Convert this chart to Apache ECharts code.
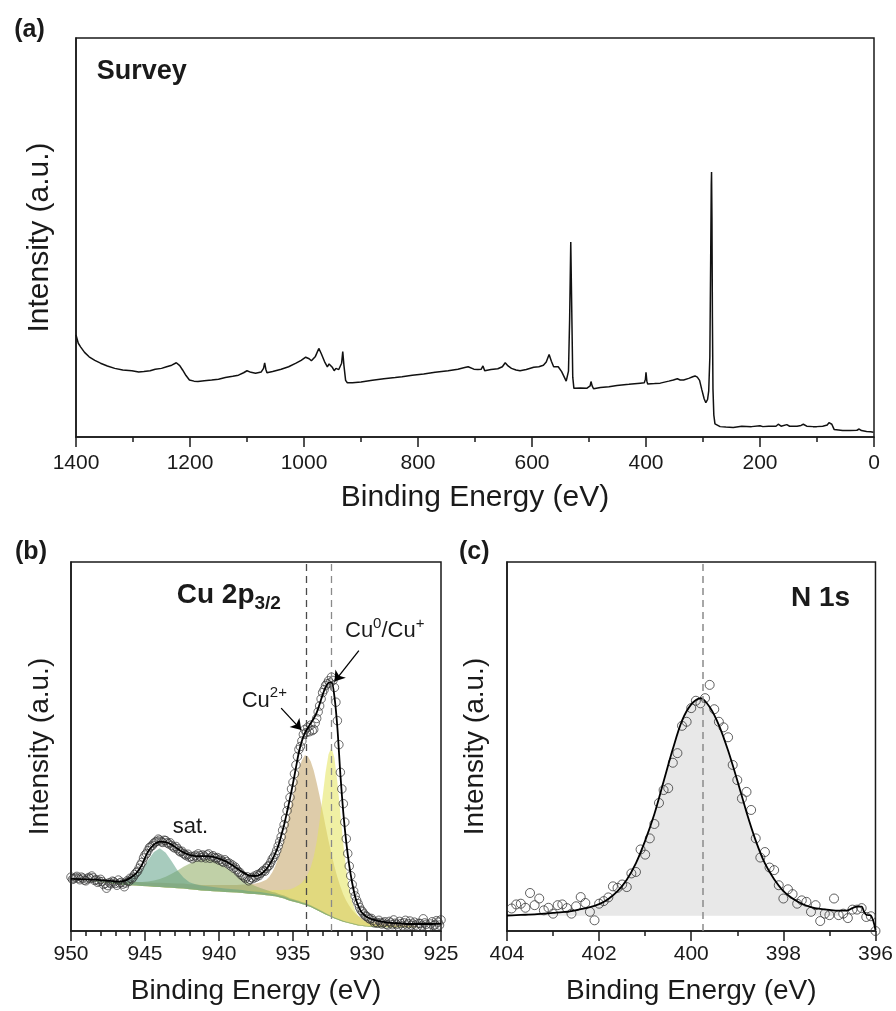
<!DOCTYPE html>
<html>
<head>
<meta charset="utf-8">
<title>XPS spectra</title>
<script src="https://cdn.jsdelivr.net/npm/echarts@6/dist/echarts.min.js"></script>
<style>
  html, body { margin: 0; padding: 0; background: #fff; }
  #chart { width: 896px; height: 1011px; }
</style>
</head>
<body>
<div id="chart"></div>
<script>
// ---------- (a) survey spectrum ----------
const surveyEnergy = [1400,1396,1392,1385,1377,1367,1357,1345,1332,1318,1302,1290,1281,1270,1261,1250,1241,1232,1224,1218,
  1213,1207,1201,1193,1186,1175,1162,1150,1138,1125,1115,1106,1100,1093,1085,1075,1071,1069,1067,1065,
  1055,1040,1027,1014,1005,997,991,987,980,974,970,964,959,956,953,950,947,944,941,939,
  937,934,932,930,927,924,915,900,880,860,840,828,810,790,770,747,730,718,712,702,
  695,689,686,683,672,660,652,647,642,636,628,621,610,597,588,580,575,570,566,562,
  554,548,544,540,538,536,534,532,530,528.5,526.5,515,504,498,496.5,494.5,492,480,465,451,
  430,410,403,401,400,398.5,397,385,375,360,352,345,340,334,325,318,314,310,306,302,
  298,295,292,290,288,286.5,285.5,285,284.3,283.5,282.5,281,279,277,270,260,247,232,215,200,
  195,185,172,168,163,153,148,135,128,124,118,107,100.5,90,82,79,77,74,70,68,
  55,42,30,26,22,13,6,1,0];
const surveyIntensity = [25.6,23.5,22.6,21.2,20.1,19.2,18.5,17.8,17.2,16.8,16.6,16.3,16.4,16.6,17.0,17.2,17.6,18.0,18.6,17.9,
  16.8,15.4,14.3,14.0,13.9,14.1,14.3,14.5,14.9,15.2,15.5,16.1,16.6,16.2,16.0,16.3,17.2,18.6,17.0,16.1,
  16.4,17.0,17.6,18.5,19.2,20.0,19.6,19.1,20.2,22.2,21.0,18.9,17.6,18.3,18.6,17.4,16.6,17.2,17.5,16.9,
  16.4,18.5,21.4,18.0,14.2,13.6,13.6,13.8,14.2,14.6,14.9,15.1,15.5,15.8,16.2,16.6,17.0,17.4,17.6,17.0,
  16.9,17.0,17.8,16.6,16.9,17.1,17.6,18.6,17.8,17.2,16.8,16.6,16.9,17.5,17.6,18.0,18.8,20.7,19.0,17.6,
  17.6,16.4,15.2,14.0,13.7,16.5,29.3,48.9,29.3,15.0,12.2,12.3,12.2,12.8,13.9,12.8,12.1,12.4,12.6,12.9,
  13.2,13.5,13.6,14.5,16.2,14.0,13.3,13.4,13.5,14.0,14.3,14.6,14.3,14.3,14.7,15.1,15.3,15.0,14.2,11.8,
  9.6,8.6,9.4,11.5,20.0,45.0,63.0,66.4,55.0,30.0,12.0,5.5,3.3,2.8,2.6,2.5,2.4,2.7,2.6,2.8,
  2.6,2.7,2.7,3.2,2.7,3.1,2.7,2.7,2.9,3.2,2.7,2.6,2.6,2.7,3.0,3.6,3.9,3.2,1.9,1.6,
  1.6,1.6,1.7,2.0,1.6,1.4,1.3,1.2,1.1];

// ---------- (b) Cu 2p3/2 ----------
const cuEnergy = [950.0,949.9,949.8,949.7,949.6,949.5,949.4,949.3,949.2,949.1,
  949.0,948.9,948.8,948.7,948.6,948.5,948.4,948.3,948.2,948.1,
  948.0,947.9,947.8,947.7,947.6,947.5,947.4,947.3,947.2,947.1,
  947.0,946.9,946.8,946.7,946.6,946.5,946.4,946.3,946.2,946.1,
  946.0,945.9,945.8,945.7,945.6,945.5,945.4,945.3,945.2,945.1,
  945.0,944.9,944.8,944.7,944.6,944.5,944.4,944.3,944.2,944.1,
  944.0,943.9,943.8,943.7,943.6,943.5,943.4,943.3,943.2,943.1,
  943.0,942.9,942.8,942.7,942.6,942.5,942.4,942.3,942.2,942.1,
  942.0,941.9,941.8,941.7,941.6,941.5,941.4,941.3,941.2,941.1,
  941.0,940.9,940.8,940.7,940.6,940.5,940.4,940.3,940.2,940.1,
  940.0,939.9,939.8,939.7,939.6,939.5,939.4,939.3,939.2,939.1,
  939.0,938.9,938.8,938.7,938.6,938.5,938.4,938.3,938.2,938.1,
  938.0,937.9,937.8,937.7,937.6,937.5,937.4,937.3,937.2,937.1,
  937.0,936.9,936.8,936.7,936.6,936.5,936.4,936.3,936.2,936.1,
  936.0,935.9,935.8,935.7,935.6,935.5,935.4,935.3,935.2,935.1,
  935.0,934.9,934.8,934.7,934.6,934.5,934.4,934.3,934.2,934.1,
  934.0,933.9,933.8,933.7,933.6,933.5,933.4,933.3,933.2,933.1,
  933.0,932.9,932.8,932.7,932.6,932.5,932.4,932.3,932.2,932.1,
  932.0,931.9,931.8,931.7,931.6,931.5,931.4,931.3,931.2,931.1,
  931.0,930.9,930.8,930.7,930.6,930.5,930.4,930.3,930.2,930.1,
  930.0,929.9,929.8,929.7,929.6,929.5,929.4,929.3,929.2,929.1,
  929.0,928.9,928.8,928.7,928.6,928.5,928.4,928.3,928.2,928.1,
  928.0,927.9,927.8,927.7,927.6,927.5,927.4,927.3,927.2,927.1,
  927.0,926.9,926.8,926.7,926.6,926.5,926.4,926.3,926.2,926.1,
  926.0,925.9,925.8,925.7,925.6,925.5,925.4,925.3,925.2,925.1,
  925.0];
const cuCounts = [14.6,14.0,14.2,14.5,14.8,14.3,13.9,14.6,14.3,13.8,
  13.6,14.1,14.5,14.2,14.9,14.4,13.7,13.9,13.2,13.5,
  14.0,13.4,12.6,12.9,11.6,12.3,13.1,12.8,13.5,13.3,
  12.9,12.4,13.8,13.0,13.2,12.7,12.0,13.0,13.6,13.4,
  14.3,14.1,14.6,15.3,15.8,16.2,17.0,17.9,18.6,19.8,
  20.6,21.0,21.8,22.6,22.9,23.2,23.8,24.1,24.3,24.9,
  24.6,24.2,24.0,24.6,24.5,23.9,23.6,23.9,23.2,22.8,
  22.5,22.9,22.3,21.7,21.4,21.6,21.0,20.7,20.4,20.8,
  20.0,20.2,19.6,20.1,20.5,20.0,20.9,20.4,19.9,20.6,
  20.3,19.8,20.6,20.9,19.7,20.1,20.4,19.9,19.6,19.9,
  19.2,19.5,18.9,18.6,19.3,18.8,18.2,18.4,17.6,17.9,
  17.0,17.3,16.6,16.0,15.9,15.2,15.0,14.6,14.2,14.7,
  13.6,14.0,14.5,14.2,14.9,14.6,15.3,15.0,15.6,16.0,
  16.4,16.2,17.0,17.5,17.8,18.6,19.5,20.0,20.8,21.8,
  23.0,24.2,25.5,27.3,28.8,30.5,32.6,34.2,36.2,38.5,
  40.3,42.6,45.0,47.3,49.2,50.0,51.5,53.3,54.6,53.8,
  55.2,54.0,55.8,54.3,54.6,56.4,57.6,59.4,61.0,62.9,
  64.6,65.4,66.5,67.0,67.8,67.2,68.8,67.9,66.0,62.0,
  57.0,50.5,43.0,38.5,34.5,29.5,25.0,21.0,17.6,15.0,
  12.6,10.8,9.5,8.3,7.4,6.4,5.6,5.2,4.6,4.1,
  3.9,3.5,3.2,3.4,2.8,2.2,2.4,2.1,2.9,2.3,
  1.9,2.2,2.5,1.8,1.6,2.6,2.2,1.7,3.0,2.1,
  1.8,1.3,2.6,2.0,1.4,2.2,2.9,1.6,2.0,2.7,
  1.5,1.9,2.4,1.6,1.2,2.1,2.0,1.4,3.3,2.2,
  1.8,1.2,1.0,1.9,2.5,1.5,1.7,2.8,2.4,1.6,
  3.0];

// fitted components on their own energy grid
const cuFitEnergy = [950.0,949.0,948.0,947.2,946.8,946.4,946.0,945.6,945.2,944.8,
  944.4,944.0,943.6,943.2,942.8,942.4,942.0,941.6,941.2,940.8,
  940.4,940.0,939.6,939.2,938.8,938.4,938.0,937.6,937.2,936.8,
  936.6,936.4,936.2,936.0,935.8,935.6,935.4,935.2,935.0,934.8,
  934.6,934.4,934.2,934.0,933.8,933.6,933.4,933.2,933.0,932.8,
  932.6,932.4,932.2,932.0,931.8,931.6,931.4,931.2,931.0,930.8,
  930.6,930.4,930.2,930.0,929.8,929.6,929.2,928.8,928.4,928.0,
  927.6,927.2,926.4,925.6,925.0];
const cuBackground = [13.8,13.6,13.3,12.9,12.7,12.5,12.4,12.3,12.2,12.1,
  12.0,11.9,11.8,11.7,11.6,11.5,11.3,11.2,11.0,10.9,
  10.8,10.7,10.6,10.5,10.4,10.3,10.1,10.0,9.9,9.7,
  9.6,9.5,9.4,9.2,9.0,8.8,8.5,8.2,8.0,7.8,
  7.6,7.3,7.1,6.8,6.5,6.1,5.7,5.3,4.9,4.5,
  4.1,3.8,3.4,3.1,2.8,2.5,2.3,2.1,1.9,1.7,
  1.5,1.4,1.3,1.2,1.1,1.1,1.0,1.0,1.0,1.0,
  1.0,1.0,1.0,1.0,1.0];
const cuSatA = [0,0,0.2,0.5,0.8,1.2,1.8,2.9,4.7,7.1,
  9.4,10.5,9.4,7.2,4.8,3.0,1.9,1.5,1.3,1.2,
  1.1,1.0,0.95,0.9,0.85,0.8,0.75,0.7,0.65,0.6,
  0.57,0.55,0.52,0.5,0.48,0.46,0.44,0.42,0.4,0.38,
  0.36,0.34,0.32,0.3,0.29,0.28,0.27,0.26,0.25,0.24,
  0.23,0.22,0.21,0.2,0.19,0.18,0.17,0.16,0.15,0.14,
  0.13,0.12,0.11,0.1,0.1,0.09,0.08,0.07,0.06,0.05,
  0.04,0.03,0,0,0];
const cuSatB = [0,0,0.15,0.35,0.5,0.7,0.9,1.0,1.1,1.3,
  1.7,2.2,2.9,3.83,4.8,5.9,6.9,7.76,8.39,8.6,
  8.39,7.76,6.9,5.9,4.8,3.83,2.95,2.25,1.75,1.4,
  1.25,1.1,1.0,0.9,0.85,0.8,0.75,0.7,0.65,0.6,
  0.58,0.56,0.54,0.52,0.5,0.48,0.46,0.44,0.42,0.4,
  0.38,0.36,0.34,0.32,0.3,0.29,0.28,0.27,0.26,0.25,
  0.24,0.23,0.22,0.21,0.2,0.19,0.16,0.14,0.12,0.1,
  0.09,0.08,0,0,0];
const cuCu2 = [0,0,0,0.4,0.6,0.8,0.9,0.95,1.0,1.05,
  1.1,1.15,1.2,1.25,1.3,1.35,1.4,1.45,1.5,1.6,
  1.7,1.8,1.9,2.0,2.1,2.3,2.5,2.8,3.3,4.2,
  5.1,6.4,8.2,10.5,13.2,16.6,20.35,24.5,28.7,32.8,
  36.4,39.0,40.5,40.56,39.45,37.37,34.5,31.2,27.6,23.9,
  20.35,17.06,14.07,11.45,9.23,7.4,5.9,4.72,3.8,3.1,
  2.6,2.25,1.95,1.75,1.6,1.5,1.3,1.2,1.1,1.0,
  0.9,0.8,0,0,0];
const cuCu0 = [0,0,0.1,0.12,0.13,0.14,0.15,0.16,0.17,0.18,
  0.19,0.2,0.21,0.23,0.25,0.27,0.29,0.32,0.35,0.38,
  0.42,0.46,0.51,0.57,0.64,0.72,0.82,0.95,1.1,1.3,
  1.4,1.55,1.7,1.9,2.1,2.4,2.7,3.1,3.6,4.2,
  4.9,5.8,7.0,8.6,10.8,14.0,18.5,24.5,31.5,38.5,
  43.8,46.0,43.5,37.2,29.1,21.1,14.4,9.35,5.95,3.87,
  2.63,1.93,1.45,1.24,1.06,0.93,0.72,0.57,0.47,0.39,
  0.33,0.28,0,0,0];
const cuEnvelope = [14.1,14.0,13.8,13.5,13.4,13.6,14.4,15.6,18.0,21.5,
  23.4,24.2,24.1,23.4,22.3,21.3,20.6,20.3,20.3,20.3,
  20.1,19.6,19.0,18.1,17.0,15.9,15.1,14.9,15.3,16.8,
  17.9,19.3,21.0,23.0,25.8,28.8,32.3,36.0,40.0,44.3,
  48.5,51.5,53.6,55.0,56.3,57.6,59.2,61.5,64.0,66.0,
  67.3,67.4,63.5,55.0,42.5,32.0,24.0,17.8,13.0,9.3,
  6.9,5.3,4.4,3.8,3.4,3.1,2.7,2.4,2.2,2.1,
  2.0,1.9,1.9,1.9,2.0];
const cuPeakPositions = [934.1, 932.4];

// ---------- (c) N 1s ----------
const nEnergy = [403.9,403.8,403.7,403.6,403.5,403.4,403.3,403.2,403.1,403.0,
  402.9,402.8,402.7,402.6,402.5,402.4,402.3,402.2,402.1,402.0,
  401.9,401.8,401.7,401.6,401.5,401.4,401.3,401.2,401.1,401.0,
  400.9,400.8,400.7,400.6,400.5,400.4,400.3,400.2,400.1,400.0,
  399.9,399.8,399.7,399.6,399.5,399.4,399.3,399.2,399.1,399.0,
  398.9,398.8,398.7,398.6,398.5,398.4,398.3,398.2,398.1,398.0,
  397.9,397.8,397.7,397.6,397.5,397.4,397.3,397.2,397.1,397.0,
  396.9,396.8,396.7,396.6,396.5,396.4,396.3,396.2,396.1,396.0];
const nCounts = [6.1,7.2,7.4,6.3,10.3,7.0,8.8,5.6,6.3,4.7,
  7.0,7.2,6.2,4.7,6.7,9.2,7.6,5.2,2.9,7.4,
  8.1,9.1,12.1,11.7,12.6,11.9,15.6,16.0,22.1,20.7,
  25.1,29.0,34.7,38.2,38.7,45.6,48.2,55.6,56.7,60.4,
  62.4,61.7,63.1,66.7,60.1,56.7,55.2,52.5,45.0,40.9,
  35.9,37.7,32.8,25.1,19.9,21.4,17.2,16.5,12.4,8.8,
  11.3,10.0,7.4,8.3,7.9,5.2,7.0,2.7,4.7,4.3,
  8.8,4.3,4.7,3.5,5.8,5.8,6.2,3.8,4.0,0.0];
const nFitEnergy = [404.0,403.8,403.6,403.4,403.2,403.0,402.8,402.6,402.4,402.2,
  402.0,401.8,401.6,401.4,401.2,401.0,400.8,400.6,400.4,400.2,
  400.0,399.8,399.6,399.4,399.2,399.0,398.8,398.6,398.4,398.2,
  398.0,397.8,397.6,397.4,397.2,397.0,396.8,396.6,396.5,396.4,
  396.3,396.25,396.2,396.1,396.0];
const nEnvelope = [4.2,4.3,4.4,4.5,4.7,4.9,5.1,5.4,5.9,6.5,
  7.3,8.7,10.8,13.9,18.4,24.5,31.7,40.5,49.3,57.0,
  61.4,63.1,60.7,55.8,48.9,40.8,32.2,24.5,18.3,14.0,
  10.8,8.8,7.4,6.5,6.0,5.7,5.5,5.6,6.2,6.6,
  6.6,5.3,4.4,4.2,0.3];
const nBackgroundLevel = 4.1;
const nPeakPosition = 399.75;
const nComponentEnd = 396.8;   // the N 1s component is shaded down to this energy

// ---------- styling ----------
const FONT = "'Liberation Sans', Arial, Helvetica, sans-serif";
const INK = '#1a1a1a';

const zip = (xs, ys) => xs.map((x, i) => [x, ys[i]]);

function energyAxis(gridIndex, min, max, interval, minorSplit, name, nameGap, nameSize, labelMargin) {
  return {
    type: 'value', gridIndex, min, max, interval, inverse: true,
    axisLine: { show: true, onZero: false, lineStyle: { color: INK, width: 1.5 } },
    axisTick: { show: true, inside: false, length: 10, lineStyle: { color: INK, width: 1.5 } },
    minorTick: { show: true, splitNumber: minorSplit, length: 5, lineStyle: { color: INK, width: 1.5 } },
    axisLabel: { color: INK, fontSize: 21, fontFamily: FONT, margin: labelMargin,
                 showMinLabel: true, showMaxLabel: true, formatter: v => String(v) },
    splitLine: { show: false }, minorSplitLine: { show: false },
    name, nameLocation: 'middle', nameGap,
    nameTextStyle: { color: INK, fontSize: nameSize, fontFamily: FONT }
  };
}
function intensityAxis(gridIndex, nameGap, nameSize) {
  return {
    type: 'value', gridIndex, min: 0, max: 100,
    axisLine: { show: true, onZero: false, lineStyle: { color: INK, width: 1.5 } },
    axisTick: { show: false }, axisLabel: { show: false }, splitLine: { show: false },
    name: 'Intensity (a.u.)', nameLocation: 'middle', nameGap, nameRotate: 90,
    nameTextStyle: { color: INK, fontSize: nameSize, fontFamily: FONT }
  };
}
const frame = { show: true, borderColor: INK, borderWidth: 1.5, backgroundColor: 'transparent' };

// a shaded band between a lower and an upper curve, placed through the axis scales
function shadedBand(axisIndex, energies, lower, upper, color) {
  return {
    type: 'custom', xAxisIndex: axisIndex, yAxisIndex: axisIndex, silent: true, z: 1,
    data: [[energies[0], lower[0]]],
    renderItem: function (params, api) {
      const pts = [];
      for (let i = 0; i < energies.length; i++) pts.push(api.coord([energies[i], upper[i]]));
      for (let i = energies.length - 1; i >= 0; i--) pts.push(api.coord([energies[i], lower[i]]));
      return { type: 'polygon', shape: { points: pts }, style: { fill: color }, silent: true };
    }
  };
}
// Cu components sit on top of the Shirley background
const cuBand = (values, color) =>
  shadedBand(1, cuFitEnergy, cuBackground, cuBackground.map((b, i) => b + values[i]), color);

const nShadeCount = nFitEnergy.filter(e => e >= nComponentEnd).length;
const nShadeEnergy = nFitEnergy.slice(0, nShadeCount);
const nShadeBase = nShadeEnergy.map(() => nBackgroundLevel);
const nShadeTop = nEnvelope.slice(0, nShadeCount);

const option = {
  animation: false,
  backgroundColor: '#ffffff',
  textStyle: { fontFamily: FONT },
  grid: [
    Object.assign({ left: 76, top: 38, width: 798, height: 399 }, frame),
    Object.assign({ left: 71, top: 562, width: 370, height: 369 }, frame),
    Object.assign({ left: 507, top: 562, width: 369, height: 369 }, frame)
  ],
  xAxis: [
    energyAxis(0, 0, 1400, 200, 2, 'Binding Energy (eV)', 46, 30, 16),
    energyAxis(1, 925, 950, 5, 5, 'Binding Energy (eV)', 46, 28, 13),
    energyAxis(2, 396, 404, 2, 2, 'Binding Energy (eV)', 46, 28, 13)
  ],
  yAxis: [
    intensityAxis(0, 21, 30),
    intensityAxis(1, 17, 28),
    intensityAxis(2, 18, 28)
  ],
  series: [
    // survey
    { type: 'line', xAxisIndex: 0, yAxisIndex: 0, data: zip(surveyEnergy, surveyIntensity),
      showSymbol: false, lineStyle: { color: '#111', width: 1.5 }, silent: true, z: 3 },

    // Cu 2p3/2 components: Cu2+, Cu0/Cu+, then the two shake-up satellites on top
    cuBand(cuCu2, 'rgba(195,162,100,0.55)'),
    cuBand(cuCu0, 'rgba(228,228,90,0.55)'),
    cuBand(cuSatB, 'rgba(140,170,95,0.55)'),
    cuBand(cuSatA, 'rgba(95,160,135,0.55)'),

    // peak position guides
    { type: 'line', xAxisIndex: 1, yAxisIndex: 1, data: [], silent: true, z: 2,
      markLine: { silent: true, symbol: ['none', 'none'], label: { show: false },
        data: [
          { xAxis: cuPeakPositions[0], lineStyle: { color: '#4a4a4a', width: 1.3, type: [7, 5] } },
          { xAxis: cuPeakPositions[1], lineStyle: { color: '#8a8a8a', width: 1.3, type: [7, 5] } }
        ] } },

    // measured points and fitted envelope
    { type: 'scatter', xAxisIndex: 1, yAxisIndex: 1, data: zip(cuEnergy, cuCounts),
      symbol: 'circle', symbolSize: 8.5, silent: true, z: 3,
      itemStyle: { color: 'rgba(0,0,0,0)', borderColor: '#333', borderWidth: 0.9 } },
    { type: 'line', xAxisIndex: 1, yAxisIndex: 1, data: zip(cuFitEnergy, cuEnvelope),
      showSymbol: false, smooth: 0.3, lineStyle: { color: '#000', width: 1.8 }, silent: true, z: 4 },

    // arrows to the two Cu species
    { type: 'line', xAxisIndex: 1, yAxisIndex: 1, data: [], silent: true, z: 5,
      markLine: { silent: true, symbol: ['none', 'arrow'], symbolSize: 10, label: { show: false },
        lineStyle: { color: '#000', width: 1.3, type: 'solid' },
        data: [
          [{ coord: [935.8, 60.4] }, { coord: [934.44, 54.5] }],
          [{ coord: [930.55, 76.0] }, { coord: [932.2, 67.6] }]
        ] } },

    // N 1s component shading, guide, points and envelope
    shadedBand(2, nShadeEnergy, nShadeBase, nShadeTop, '#e8e8e8'),
    { type: 'line', xAxisIndex: 2, yAxisIndex: 2, data: [], silent: true, z: 2,
      markLine: { silent: true, symbol: ['none', 'none'], label: { show: false },
        data: [{ xAxis: nPeakPosition, lineStyle: { color: '#8a8a8a', width: 1.5, type: [7, 5] } }] } },
    { type: 'scatter', xAxisIndex: 2, yAxisIndex: 2, data: zip(nEnergy, nCounts),
      symbol: 'circle', symbolSize: 9, silent: true, z: 3,
      itemStyle: { color: 'rgba(0,0,0,0)', borderColor: '#3a3a3a', borderWidth: 1 } },
    { type: 'line', xAxisIndex: 2, yAxisIndex: 2, data: zip(nFitEnergy, nEnvelope),
      showSymbol: false, smooth: 0.3, lineStyle: { color: '#000', width: 1.8 }, silent: true, z: 4 }
  ],
  graphic: [
    { type: 'text', x: 29.5, y: 30, silent: true,
      style: { text: '(a)', font: 'bold 25px ' + FONT, fill: INK, align: 'center', verticalAlign: 'middle', textAlign: 'center', textVerticalAlign: 'middle' } },
    { type: 'text', x: 31, y: 552.5, silent: true,
      style: { text: '(b)', font: 'bold 25px ' + FONT, fill: INK, align: 'center', verticalAlign: 'middle', textAlign: 'center', textVerticalAlign: 'middle' } },
    { type: 'text', x: 474.3, y: 552.5, silent: true,
      style: { text: '(c)', font: 'bold 25px ' + FONT, fill: INK, align: 'center', verticalAlign: 'middle', textAlign: 'center', textVerticalAlign: 'middle' } },
    { type: 'text', x: 96.7, y: 71.6, silent: true,
      style: { text: 'Survey', font: 'bold 27px ' + FONT, fill: INK, align: 'left', verticalAlign: 'middle', textAlign: 'left', textVerticalAlign: 'middle' } },
    { type: 'text', x: 176.7, y: 581.7, silent: true,
      style: { text: '{m|Cu 2p}{s|3/2}', fill: INK, align: 'left', verticalAlign: 'top', textAlign: 'left', textVerticalAlign: 'top',
        rich: {
          m: { fontSize: 28, fontWeight: 'bold', fontFamily: FONT, lineHeight: 32, verticalAlign: 'top', fill: INK },
          s: { fontSize: 19, fontWeight: 'bold', fontFamily: FONT, lineHeight: 19, verticalAlign: 'bottom', fill: INK }
        } } },
    { type: 'text', x: 791, y: 598.5, silent: true,
      style: { text: 'N 1s', font: 'bold 28px ' + FONT, fill: INK, align: 'left', verticalAlign: 'middle', textAlign: 'left', textVerticalAlign: 'middle' } },
    { type: 'text', x: 241.7, y: 685.8, silent: true,
      style: { text: '{m|Cu}{p|2+}', fill: INK, align: 'left', verticalAlign: 'top', textAlign: 'left', textVerticalAlign: 'top',
        rich: {
          m: { fontSize: 22, fontFamily: FONT, lineHeight: 26, verticalAlign: 'bottom', fill: INK },
          p: { fontSize: 15, fontFamily: FONT, lineHeight: 15, verticalAlign: 'top', fill: INK }
        } } },
    { type: 'text', x: 345, y: 616, silent: true,
      style: { text: '{m|Cu}{p|0}{m|/Cu}{p|+}', fill: INK, align: 'left', verticalAlign: 'top', textAlign: 'left', textVerticalAlign: 'top',
        rich: {
          m: { fontSize: 22, fontFamily: FONT, lineHeight: 26, verticalAlign: 'bottom', fill: INK },
          p: { fontSize: 15, fontFamily: FONT, lineHeight: 15, verticalAlign: 'top', fill: INK }
        } } },
    { type: 'text', x: 172.7, y: 827.3, silent: true,
      style: { text: 'sat.', font: '22px ' + FONT, fill: INK, align: 'left', verticalAlign: 'middle', textAlign: 'left', textVerticalAlign: 'middle' } }
  ]
};

const chart = echarts.init(document.getElementById('chart'), null, { renderer: 'canvas', devicePixelRatio: 1 });
chart.setOption(option);
</script>
</body>
</html>
